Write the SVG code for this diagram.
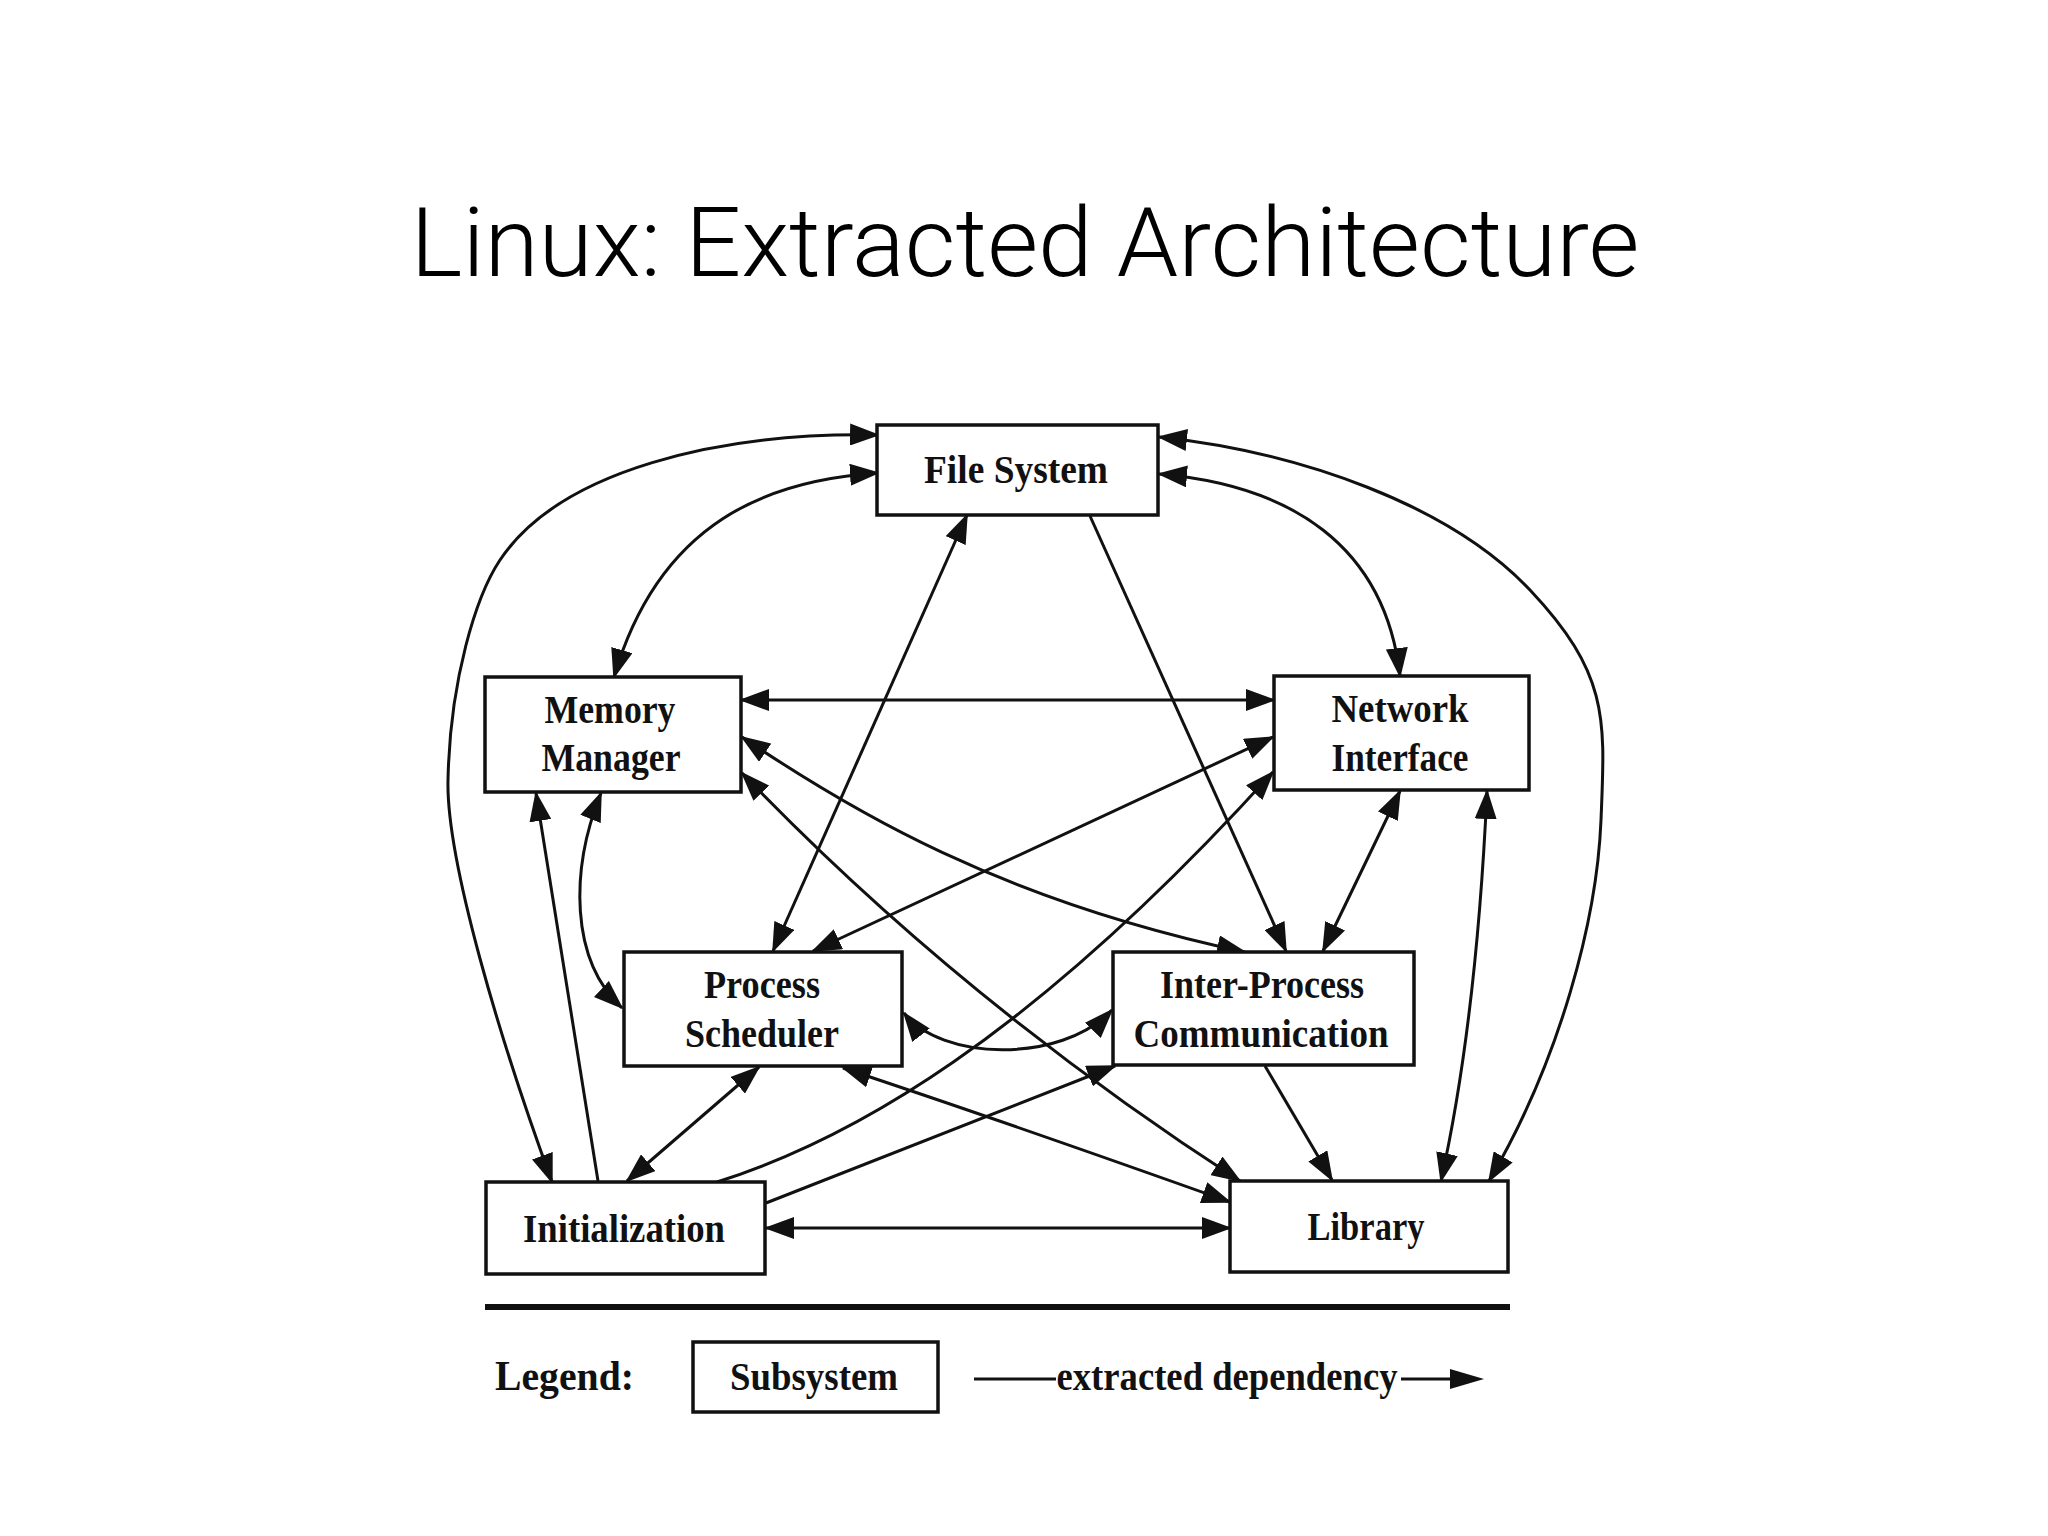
<svg xmlns="http://www.w3.org/2000/svg" width="2048" height="1536" viewBox="0 0 2048 1536">
<style>
.box{fill:#fff;stroke:#111;stroke-width:3.5}
.lbl{font-family:"Liberation Serif","Times New Roman",serif;font-weight:bold;font-size:39px;fill:#111;text-anchor:middle}
.edge{fill:none;stroke:#111;stroke-width:3}
.title{font-family:Roboto,"Liberation Sans",Arial,sans-serif;font-weight:300;font-size:97px;fill:#000;text-anchor:middle}
</style>
<defs>
<marker id="ah" markerUnits="userSpaceOnUse" markerWidth="30" markerHeight="22" viewBox="0 0 30 22" refX="28" refY="11" orient="auto-start-reverse">
<path d="M0,0 L30,11 L0,22 z" fill="#111"/>
</marker>
<marker id="ahL" markerUnits="userSpaceOnUse" markerWidth="34" markerHeight="20" viewBox="0 0 34 20" refX="2" refY="10" orient="auto">
<path d="M0,0 L34,10 L0,20 z" fill="#111"/>
</marker>
</defs>
<rect width="2048" height="1536" fill="#fff"/>
<text class="title" x="1025" y="276" textLength="1229" lengthAdjust="spacingAndGlyphs">Linux: Extracted Architecture</text>

<g id="connectors">
<path class="edge" marker-start="url(#ah)" marker-end="url(#ah)" d="M878,435 C720,432 560,470 500,560 C476,596 450,680 448,780 C446,860 500,1040 552,1182"/>
<path class="edge" marker-start="url(#ah)" marker-end="url(#ah)" d="M878,473 C770,480 660,520 614,677"/>
<path class="edge" marker-start="url(#ah)" marker-end="url(#ah)" d="M1159,474 C1290,485 1385,545 1400,676"/>
<path class="edge" marker-start="url(#ah)" marker-end="url(#ah)" d="M1159,437 C1300,452 1450,505 1530,590 S1605,720 1601,820 S1560,1060 1489,1181"/>
<path class="edge" marker-start="url(#ah)" marker-end="url(#ah)" d="M741,700 L1274,700"/>
<path class="edge" marker-start="url(#ah)" marker-end="url(#ah)" d="M813,951 L1273,737"/>
<path class="edge" marker-end="url(#ah)" d="M717,1182 C850,1140 1030,1040 1273,772"/>
<path class="edge" marker-end="url(#ah)" d="M766,1203 Q950,1130 1115,1066"/>
<path class="edge" marker-start="url(#ah)" marker-end="url(#ah)" d="M766,1228 L1230,1228"/>
<path class="edge" marker-start="url(#ah)" marker-end="url(#ah)" d="M627,1181 L759,1067"/>
<path class="edge" marker-end="url(#ah)" d="M598,1181 L536,793"/>
<path class="edge" marker-start="url(#ah)" marker-end="url(#ah)" d="M601,793 C570,870 570,960 622,1008"/>
<path class="edge" marker-start="url(#ah)" marker-end="url(#ah)" d="M967,515 L773,951"/>
<path class="edge" marker-end="url(#ah)" d="M1090,516 L1286,951"/>
<path class="edge" marker-start="url(#ah)" marker-end="url(#ah)" d="M1400,791 L1323,951"/>
<path class="edge" marker-start="url(#ah)" marker-end="url(#ah)" d="M1487,791 C1482,900 1470,1050 1441,1181"/>
<path class="edge" marker-end="url(#ah)" d="M1265,1066 L1332,1180"/>
<path class="edge" marker-start="url(#ah)" marker-end="url(#ah)" d="M742,737 C850,810 1000,900 1245,952"/>
<path class="edge" marker-start="url(#ah)" marker-end="url(#ah)" d="M742,773 Q960,1000 1240,1181"/>
<path class="edge" marker-start="url(#ah)" marker-end="url(#ah)" d="M843,1068 Q1000,1120 1230,1202"/>
<path class="edge" marker-start="url(#ah)" marker-end="url(#ah)" d="M904,1013 C940,1060 1060,1065 1112,1010"/>
</g>

<g id="file-system">
<rect class="box" x="877" y="425" width="281" height="90"/>
<text class="lbl" x="1016" y="483" textLength="184" lengthAdjust="spacingAndGlyphs">File System</text>
</g>
<g id="memory-manager">
<rect class="box" x="485" y="677" width="256" height="115"/>
<text class="lbl" x="610" y="723" textLength="131" lengthAdjust="spacingAndGlyphs">Memory</text>
<text class="lbl" x="611" y="771" textLength="139" lengthAdjust="spacingAndGlyphs">Manager</text>
</g>
<g id="network-interface">
<rect class="box" x="1274" y="676" width="255" height="114"/>
<text class="lbl" x="1400" y="722" textLength="137" lengthAdjust="spacingAndGlyphs">Network</text>
<text class="lbl" x="1400" y="771" textLength="137" lengthAdjust="spacingAndGlyphs">Interface</text>
</g>
<g id="process-scheduler">
<rect class="box" x="624" y="952" width="278" height="114"/>
<text class="lbl" x="762" y="998" textLength="116" lengthAdjust="spacingAndGlyphs">Process</text>
<text class="lbl" x="762" y="1047" textLength="154" lengthAdjust="spacingAndGlyphs">Scheduler</text>
</g>
<g id="inter-process-communication">
<rect class="box" x="1113" y="952" width="301" height="113"/>
<text class="lbl" x="1262" y="998" textLength="204" lengthAdjust="spacingAndGlyphs">Inter-Process</text>
<text class="lbl" x="1261" y="1047" textLength="255" lengthAdjust="spacingAndGlyphs">Communication</text>
</g>
<g id="initialization">
<rect class="box" x="486" y="1182" width="279" height="92"/>
<text class="lbl" x="624" y="1242" textLength="202" lengthAdjust="spacingAndGlyphs">Initialization</text>
</g>
<g id="library">
<rect class="box" x="1230" y="1181" width="278" height="91"/>
<text class="lbl" x="1366" y="1240" textLength="117" lengthAdjust="spacingAndGlyphs">Library</text>
</g>

<g id="legend">
<line x1="485" y1="1307" x2="1510" y2="1307" stroke="#111" stroke-width="6"/>
<text class="lbl" x="495" y="1390" style="text-anchor:start;font-size:42px" textLength="139" lengthAdjust="spacingAndGlyphs">Legend:</text>
<rect class="box" x="693" y="1342" width="245" height="70"/>
<text class="lbl" x="814" y="1390" textLength="168" lengthAdjust="spacingAndGlyphs">Subsystem</text>
<line x1="974" y1="1379" x2="1056" y2="1379" stroke="#111" stroke-width="3"/>
<text class="lbl" x="1227" y="1390" textLength="341" lengthAdjust="spacingAndGlyphs">extracted dependency</text>
<line x1="1401" y1="1379" x2="1452" y2="1379" stroke="#111" stroke-width="3" marker-end="url(#ahL)"/>
</g>
</svg>
